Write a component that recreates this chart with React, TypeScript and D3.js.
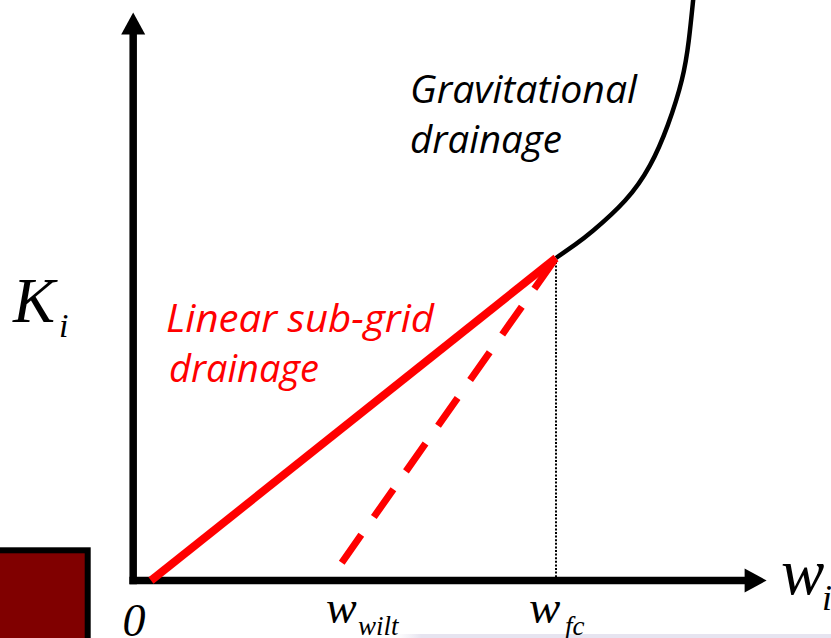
import React from "react";
import * as d3 from "d3";

// Soil-moisture axis (w) reference points and drainage curve samples
const wWilt = 0.33;
const wFc = 0.75;
const kFc = 1.0;

// Linear sub-grid drainage: from origin to field capacity
const linearW = [0, wFc];
const linearK = [0, kFc];

// Steep sub-grid drainage starting at the wilting point
const steepW = [wWilt, wFc];
const steepK = [0, kFc];

// Gravitational drainage above field capacity
const gravW = [0.75, 0.786, 0.819, 0.878, 0.924, 0.957, 0.983, 0.996, 1.004, 1.008];
const gravK = [1.0, 1.042, 1.085, 1.178, 1.287, 1.412, 1.552, 1.676, 1.8, 1.862];

// Axis extents in data units
const axisOriginW = -0.033;
const axisMaxW = 1.14;
const axisMaxK = 1.761;

const W = 831;
const H = 638;

const x = d3.scaleLinear().domain([0, 1]).range([151, 691]);
const y = d3.scaleLinear().domain([0, 1]).range([580.5, 258]);

const line = d3
  .line<[number, number]>()
  .x((d) => x(d[0]))
  .y((d) => y(d[1]));

const curve = d3
  .line<[number, number]>()
  .x((d) => x(d[0]))
  .y((d) => y(d[1]))
  .curve(d3.curveNatural);

const zip = (a: number[], b: number[]) =>
  a.map((v, i) => [v, b[i]] as [number, number]);

const serif = "'Liberation Serif', 'Times New Roman', serif";
const humanist = "'Open Sans', 'Noto Sans', sans-serif";

export default function App() {
  const x0 = x(axisOriginW);
  const y0 = y(0);
  const xEnd = x(axisMaxW);
  const yEnd = y(axisMaxK);
  const axisW = 7.5;
  const headLen = 22;
  const headHalf = 12;

  return (
    <svg
      width={W}
      height={H}
      viewBox={`0 0 ${W} ${H}`}
      style={{ position: "absolute", left: 0, top: 0, background: "#fff" }}
    >
      <defs>
        <linearGradient id="shelf" x1="0" x2="1" y1="0" y2="0">
          <stop offset="0" stopColor="#eceaf3" stopOpacity={0} />
          <stop offset="0.06" stopColor="#e6e4f0" stopOpacity={1} />
          <stop offset="1" stopColor="#e6e4f0" stopOpacity={1} />
        </linearGradient>
      </defs>

      {/* faint shelf along the bottom edge */}
      <rect x={395} y={634} width={W - 395} height={4} fill="url(#shelf)" />

      {/* dark red block in the lower-left corner */}
      <rect
        x={-10}
        y={550.3}
        width={97.7}
        height={110}
        fill="#800000"
        stroke="#000"
        strokeWidth={6}
      />

      {/* field-capacity guide */}
      <line
        x1={x(wFc)}
        x2={x(wFc)}
        y1={y(kFc) + 4}
        y2={y0 - 3}
        stroke="#000"
        strokeWidth={2}
        strokeDasharray="2 1.6"
      />

      {/* axes */}
      <line
        x1={x0}
        x2={x0}
        y1={y0 + axisW / 2}
        y2={yEnd + headLen - 1}
        stroke="#000"
        strokeWidth={axisW}
      />
      <path
        d={`M${x0},${yEnd} L${x0 - headHalf},${yEnd + headLen} L${x0 + headHalf},${yEnd + headLen} Z`}
        fill="#000"
      />
      <line
        x1={x0 - axisW / 2}
        x2={xEnd - headLen + 1}
        y1={y0}
        y2={y0}
        stroke="#000"
        strokeWidth={axisW}
      />
      <path
        d={`M${xEnd},${y0} L${xEnd - headLen},${y0 - headHalf} L${xEnd - headLen},${y0 + headHalf} Z`}
        fill="#000"
      />

      {/* gravitational drainage curve */}
      <path
        d={curve(zip(gravW, gravK)) ?? ""}
        fill="none"
        stroke="#000"
        strokeWidth={4.5}
      />

      {/* steep (dashed) sub-grid drainage */}
      <path
        d={line(zip(steepW, steepK)) ?? ""}
        fill="none"
        stroke="#ff0000"
        strokeWidth={7}
        strokeDasharray="34 21.8"
        strokeDashoffset={34}
      />

      {/* linear sub-grid drainage */}
      <path
        d={line(zip(linearW, linearK)) ?? ""}
        fill="none"
        stroke="#ff0000"
        strokeWidth={8}
        strokeLinejoin="miter"
      />

      {/* axis labels */}
      <text x={13} y={321.7} fontFamily={serif} fontStyle="italic" fontSize={63} fill="#000">
        K
      </text>
      <text x={59} y={337} fontFamily={serif} fontStyle="italic" fontSize={34} fill="#000">
        i
      </text>

      <text x={781} y={594} fontFamily={serif} fontStyle="italic" fontSize={65} fill="#000">
        w
      </text>
      <text x={822} y={610} fontFamily={serif} fontStyle="italic" fontSize={36} fill="#000">
        i
      </text>

      <text x={134} y={636} textAnchor="middle" fontFamily={serif} fontStyle="italic" fontSize={46} fill="#000">
        0
      </text>

      <text x={326} y={623} fontFamily={serif} fontStyle="italic" fontSize={46} fill="#000">
        w
      </text>
      <text x={358} y={635} fontFamily={serif} fontStyle="italic" fontSize={27} fill="#000">
        wilt
      </text>

      <text x={529} y={623} fontFamily={serif} fontStyle="italic" fontSize={47} fill="#000">
        w
      </text>
      <text x={565} y={635} fontFamily={serif} fontStyle="italic" fontSize={27} fill="#000">
        fc
      </text>

      {/* curve annotations */}
      <text fontFamily={humanist} fontStyle="italic" fontSize={38} fill="#000">
        <tspan x={410} y={103.3} textLength={227} lengthAdjust="spacingAndGlyphs">
          Gravitational
        </tspan>
        <tspan x={410} y={153.3} textLength={152} lengthAdjust="spacingAndGlyphs">
          drainage
        </tspan>
      </text>
      <text fontFamily={humanist} fontStyle="italic" fontSize={38} fill="#ff0000">
        <tspan x={166} y={331.7} textLength={268} lengthAdjust="spacingAndGlyphs">
          Linear sub-grid
        </tspan>
        <tspan x={169} y={381.7} textLength={150} lengthAdjust="spacingAndGlyphs">
          drainage
        </tspan>
      </text>
    </svg>
  );
}
